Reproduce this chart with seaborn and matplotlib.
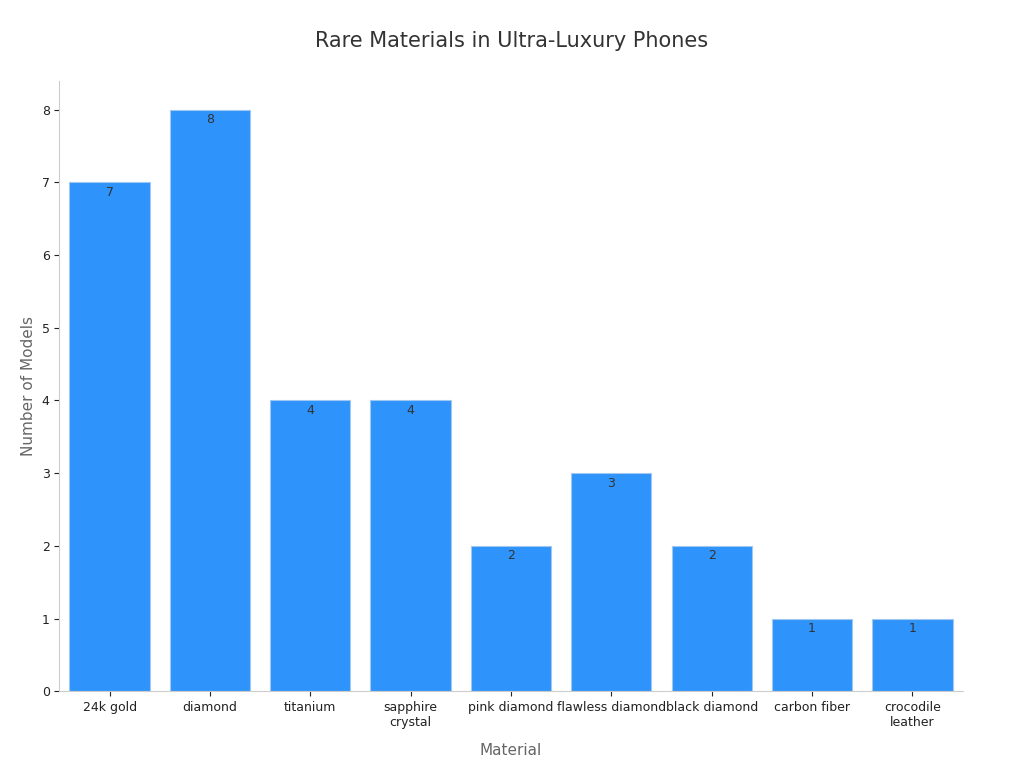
import matplotlib
matplotlib.use("Agg")
import matplotlib.pyplot as plt
import seaborn as sns
import pandas as pd

materials = ["24k gold", "diamond", "titanium", "sapphire\ncrystal", "pink diamond",
             "flawless diamond", "black diamond", "carbon fiber", "crocodile\nleather"]
counts = [7, 8, 4, 4, 2, 3, 2, 1, 1]

df = pd.DataFrame({"Material": materials, "Count": counts})
fig, ax = plt.subplots(figsize=(10.24, 7.68), dpi=100)
sns.barplot(data=df, x="Material", y="Count", color="#2e93fa", saturation=1,
            width=0.8, edgecolor="#a0c8f0", linewidth=0.8, ax=ax)
for p, v in zip(ax.patches, counts):
    ax.text(p.get_x() + p.get_width() / 2, v - 0.05, str(v), ha="center", va="top",
            fontsize=9, color="#333333")
fig.suptitle("Rare Materials in Ultra-Luxury Phones", fontsize=15, color="#333333", y=0.96)
ax.set_xlabel("Material", fontsize=11, color="#666666", labelpad=10)
ax.set_ylabel("Number of Models", fontsize=11, color="#666666")
ax.set_ylim(0, 8.4)
ax.set_xlim(-0.5, 8.5)
ax.tick_params(labelsize=9, colors="#222222")
for s in ["top", "right"]:
    ax.spines[s].set_visible(False)
for s in ["left", "bottom"]:
    ax.spines[s].set_color("#cccccc")
plt.subplots_adjust(left=0.058, right=0.94, top=0.895, bottom=0.1)
fig.savefig("out.png")
